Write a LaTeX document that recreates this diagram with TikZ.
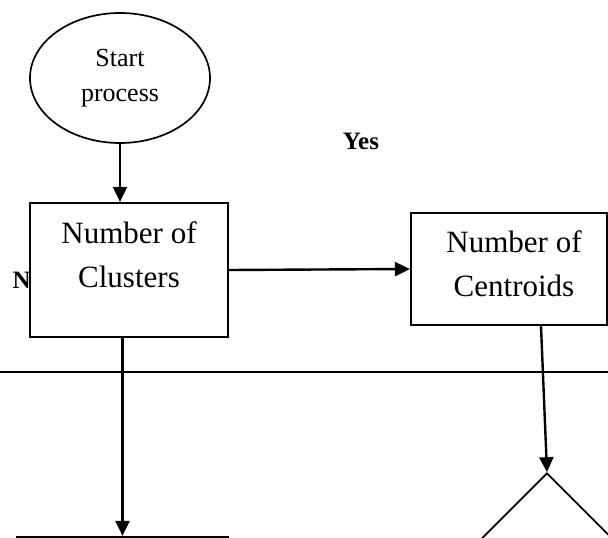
\documentclass[tikz,border=0pt]{standalone}
\usepackage{fontspec}
\setmainfont{Liberation Serif}
\usetikzlibrary{shapes.geometric, arrows.meta, positioning}

\begin{document}
\begin{tikzpicture}[x=1pt, y=-1pt,
    box/.style={draw, line width=2.2pt, fill=white, inner sep=0pt},
    term/.style={draw, ellipse, line width=1.7pt, inner sep=0pt, align=center,
        font=\fontsize{26}{35}\selectfont},
    decision/.style={draw, diamond, line width=1.7pt, inner sep=0pt},
    arr/.style={line width=2.4pt, -{Triangle[length=15pt, width=14pt]}},
    big/.style={align=center, inner sep=0pt, font=\fontsize{31}{44}\selectfont},
    lbl/.style={inner sep=0pt, font=\fontsize{25}{30}\selectfont\bfseries}]
    \useasboundingbox (0,0) rectangle (608,538);
    \clip (0,0) rectangle (608,538);
    \fill[white] (0,0) rectangle (608,538);

    % start
    \node[term, minimum width=180pt, minimum height=130pt] (start) at (120,78) {Start\\process};

    % labels of the branches
    \node[lbl, anchor=base] (yes) at (361,149) {Yes};
    \node[lbl, anchor=base east] (no) at (31,288) {N};

    % boxes
    \node[box, minimum width=198pt, minimum height=134pt] (clus) at (129,270) {};
    \node[big] (clustxt) at (129,255) {Number of\\Clusters};
    \node[box, minimum width=196pt, minimum height=112pt] (cent) at (509,269) {};
    \node[big] (centtxt) at (514,264) {Number of\\Centroids};
    \node[box, minimum width=211pt, minimum height=80pt] (bot) at (122.5,577) {};
    \node[decision, minimum width=180pt, minimum height=180pt] (dec) at (547,563) {};

    % separator line
    \coordinate (sepl) at (0,372);
    \coordinate (sepr) at (608,372);
    \draw[line width=2.2pt] (sepl) -- (sepr);

    % connectors
    \coordinate (c1) at ([xshift=32pt]cent.south);
    \draw[arr] (start.south) -- (start.south |- clus.north);
    \draw[arr] (clus.east) -- (cent.west);
    \draw[arr] (bot.north |- clus.south) -- (bot.north);
    \draw[arr] (c1) -- (dec.north);
\end{tikzpicture}
\end{document}
